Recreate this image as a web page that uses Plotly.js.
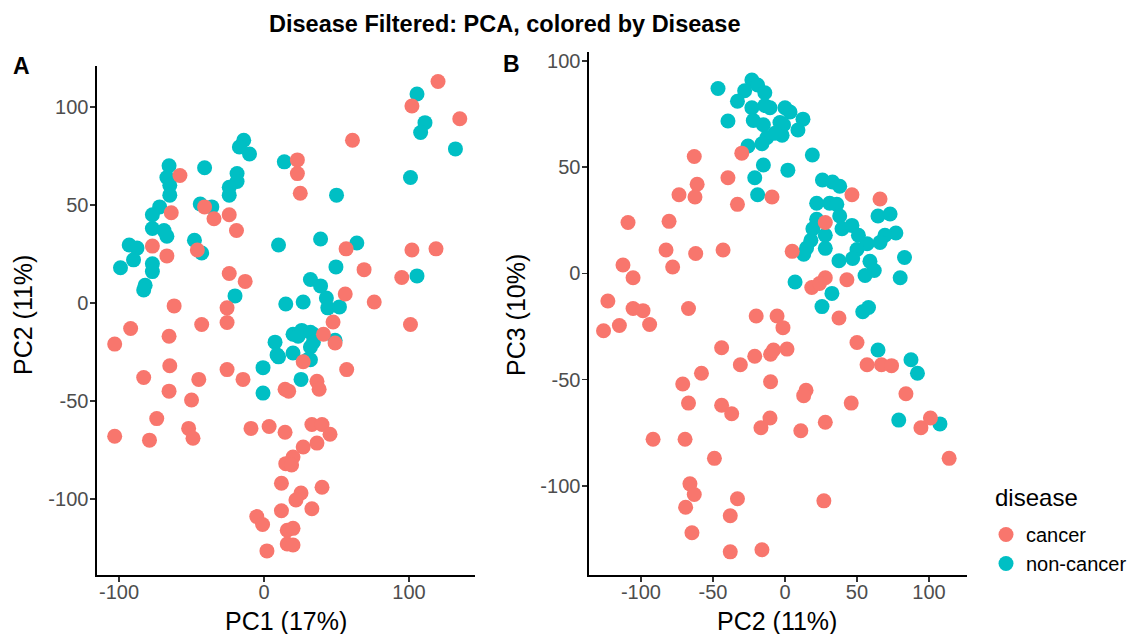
<!DOCTYPE html>
<html>
<head>
<meta charset="utf-8">
<script src="https://cdn.plot.ly/plotly-3.0.1.min.js"></script>
<style>html,body{margin:0;padding:0;background:#fff;}#chart{width:1134px;height:634px;}</style>
</head>
<body>
<div id="chart"></div>
<script>
// ---------- DATA ----------
const diseases = ["cancer", "non-cancer"];
const legendTitle = "disease";
const chartTitle = "Disease Filtered: PCA, colored by Disease";
const panelLabels = ["A", "B"];
const axisTitles = { aX: "PC1 (17%)", aY: "PC2 (11%)", bX: "PC2 (11%)", bY: "PC3 (10%)" };

// Panel A: PC1 vs PC2
const aCancerPC1 = [120,102,135,61,23,23,25,-58,-64,-41,-34.5,-24,-19,-77,-67,-46,-24,-13,-62,-25.5,-25.5,-92,-43,-103,-65.5,-65,-83,-45,-65.5,-50,-25.5,-14.5,-74,-103,-79,-52,-49,-9,3.5,14.5,14.5,15,12,12,-5,-1,2,16,16,47.6,101,49,41,27,57,36.5,38,33,40,45.5,27,36.5,20,19,40,25.5,22,33,20,20,56.6,102,118.6,69,95,56,76,17];
const aCancerPC2 = [113,100.5,94,83,73,66,56,65,46,49,43,45,37,29,24,27,15,11,-1.5,-2.5,-10,-13,-11,-21,-17,-32,-38,-39,-45,-49.5,-34,-39,-59,-68,-70,-64,-69,-64,-63,-66,-44,-82,-92,-106,-109,-113,-126.5,-116,-123,-9.7,-11,-20.4,-16,-30,-34,-40,-44,-62,-62,-67,-73.5,-71.5,-78.6,-82.7,-94,-97,-100.5,-105,-115,-123.5,27.6,27,27.6,17,13,4.6,0.5,-45];
const aNonPC1 = [105.5,111,108,132,101,50,14,-14,-17,-10,-65.5,-41,-67,-65,-18.6,-18.6,-24,-24,-65,-72,-77,-44,-36,-77,-69,-67,-48,-43,-93,-87.6,-90,-99,-77,-77,-82,-83,10,-20,15,39,64,49.6,105.5,32,39,27,43,44,52,26,20,34,7.6,49,20,32,10,32,-0.7,25.5,-0.7,23.5,32,34,30,9];
const aNonPC2 = [106.6,92,87,78.6,64,55,72,83,79.6,76,70,69,64,60,66,62,59,55,55,49,45,50.5,49,38,37,34,32,25.5,29.6,28,22,18,20,16,9,6.6,29.6,3.6,-0.5,32.6,30.6,18.4,13.8,12,8.7,0.5,2.5,-2.5,-2,-14,-16,-16,-20,-19,-25.5,-22.5,-27.5,-29,-33,-39,-46,-17,-15,-20,-29,-26.5];

// Panel B: PC2 vs PC3
const bCancerPC2 = [-30,-63,-39.6,-61,-73.6,-62.5,-33,-9,-109,-80.5,-82.6,-62,-43,-112.5,-78,-105.5,-123,-105.5,-98.6,-67,-20,-5.5,-115,-126,-94,-44,-21,-10,-31,-58,-71,-10,-67,-44,-37,-10.4,-16.7,-91.6,-69.4,-49,-66,-63,-33,-69,-38,-64.6,-38,-16,46.5,66,28,5,43,28,18.6,24,37.5,-1.4,50,57,67,74,-8,1.4,14.6,13,46,84,11,28,94.4,101,114,27];
const bCancerPC3 = [56.6,55,45,42,37,36,32.5,36,24,24.5,11,9.4,11,4,3,-2,-13,-16.5,-17.5,-16.5,-20,-20,-24.5,-27,-24,-35,-39,-38,-43,-47,-52,-51,-61,-62,-66,-68,-72.6,-78,-78,-87,-99,-104,-106,-110,-114,-122,-131,-130,37,35,24,10.4,-3,-2,-6.6,-4.7,-21,-25.5,-32.5,-43,-43,-43.4,-36,-35.6,-55,-57.5,-61,-56.6,-74,-70,-72.6,-68,-87,-107];
const bNonPC2 = [-46.5,-23,-19,-28,-14,-33,-23,-14,0,3.5,-22,-15,12.5,-39.6,-3.5,9,-12.5,-2,-25.7,-16,-15,-21,2,19,-19,-10.4,-1,26,33,38,22,31,36,38,22,19.4,39.6,46.5,64.6,73,77,69.4,66,51,57,28,18,15,28,13,50,47,37.5,83,59,62,55.6,80,7,32.6,25.7,54,58,64.6,87.5,92,79,107.6,-7];
const bNonPC3 = [87,91,88.7,86,85,81,78,79,78,76,72,70,72.6,71.7,71,67.5,64,65,60,61,51,45,48.6,55.7,37,78,70,44,43,41,33,33,32.5,27,25.5,21,21,22.6,27,28,19,18,14.6,18,14,18,15.6,12,11.8,9,11.3,7,6,7.5,5.7,1.4,-1,-2,-4,-9.4,-15.6,-18,-16,-36,-40.6,-47,-69,-70.8,66];

// Tick labels
const aXTicks = [-100, 0, 100];
const aXTickText = ["-100", "0", "100"];
const aYTicks = [-100, -50, 0, 50, 100];
const aYTickText = ["-100", "-50", "0", "50", "100"];
const bXTicks = [-100, -50, 0, 50, 100];
const bXTickText = ["-100", "-50", "0", "50", "100"];
const bYTicks = [-100, -50, 0, 50, 100];
const bYTickText = ["-100", "-50", "0", "50", "100"];

// ---------- STYLE ----------
const colors = { "cancer": "#F8766D", "non-cancer": "#00BFC4" };
const FONT = "Liberation Sans, Arial, Helvetica, sans-serif";
const MSIZE = 15;

function pts(x, y, name, xa, ya, show, rank) {
  return {
    type: "scatter", mode: "markers", x: x, y: y, name: name,
    xaxis: xa, yaxis: ya, showlegend: show, legendrank: rank,
    marker: { color: colors[name], size: MSIZE, line: { width: 0 } },
    hoverinfo: "x+y+name"
  };
}

const traces = [
  pts(aNonPC1, aNonPC2, diseases[1], "x", "y", true, 2),
  pts(aCancerPC1, aCancerPC2, diseases[0], "x", "y", true, 1),
  pts(bNonPC2, bNonPC3, diseases[1], "x2", "y2", false, 2),
  pts(bCancerPC2, bCancerPC3, diseases[0], "x2", "y2", false, 1)
];

function axis(domain, range, tv, tt, anchor, standoff) {
  return {
    domain: domain, range: range, anchor: anchor,
    showgrid: false, zeroline: false, showline: true,
    linecolor: "#000", linewidth: 1.6,
    ticks: "outside", ticklen: 5, tickwidth: 1.5, tickcolor: "#333",
    tickvals: tv, ticktext: tt, ticklabelstandoff: standoff,
    tickfont: { family: FONT, size: 20, color: "#4d4d4d" },
    fixedrange: true
  };
}

const W = 1134, H = 634;
const px = v => v / W, py = v => 1 - v / H;

const layout = {
  width: W, height: H,
  margin: { l: 0, r: 0, t: 0, b: 0 },
  paper_bgcolor: "#fff", plot_bgcolor: "#fff",
  font: { family: FONT, color: "#000" },
  xaxis: axis([px(97), px(475)], [-115.2, 145.5], aXTicks, aXTickText, "y", -7),
  yaxis: axis([py(575), py(66)], [-138.8, 120.9], aYTicks, aYTickText, "x", -2),
  xaxis2: axis([px(589), px(967)], [-136.1, 126.4], bXTicks, bXTickText, "y2", -7),
  yaxis2: axis([py(575), py(52)], [-141.9, 104.2], bYTicks, bYTickText, "x2", -2),
  showlegend: true,
  legend: {
    x: px(986), y: py(515), xanchor: "left", yanchor: "top",
    font: { family: FONT, size: 20, color: "#000" },
    bgcolor: "rgba(0,0,0,0)", tracegroupgap: 0
  },
  annotations: [
    { text: "<b>" + chartTitle + "</b>", x: px(505), y: py(24), xref: "paper", yref: "paper",
      showarrow: false, xanchor: "center", yanchor: "middle", font: { family: FONT, size: 23.5, color: "#000" } },
    { text: "<b>" + panelLabels[0] + "</b>", x: px(21), y: py(66), xref: "paper", yref: "paper",
      showarrow: false, xanchor: "center", yanchor: "middle", font: { family: FONT, size: 23, color: "#000" } },
    { text: "<b>" + panelLabels[1] + "</b>", x: px(511), y: py(64), xref: "paper", yref: "paper",
      showarrow: false, xanchor: "center", yanchor: "middle", font: { family: FONT, size: 23, color: "#000" } },
    { text: axisTitles.aX, x: px(286), y: py(621), xref: "paper", yref: "paper",
      showarrow: false, xanchor: "center", yanchor: "middle", font: { family: FONT, size: 25, color: "#000" } },
    { text: axisTitles.aY, x: px(23), y: py(315), xref: "paper", yref: "paper", textangle: -90,
      showarrow: false, xanchor: "center", yanchor: "middle", font: { family: FONT, size: 25, color: "#000" } },
    { text: axisTitles.bX, x: px(777), y: py(621), xref: "paper", yref: "paper",
      showarrow: false, xanchor: "center", yanchor: "middle", font: { family: FONT, size: 25, color: "#000" } },
    { text: axisTitles.bY, x: px(516), y: py(315), xref: "paper", yref: "paper", textangle: -90,
      showarrow: false, xanchor: "center", yanchor: "middle", font: { family: FONT, size: 25, color: "#000" } },
    { text: legendTitle, x: px(993), y: py(497), xref: "paper", yref: "paper",
      showarrow: false, xanchor: "left", yanchor: "middle", font: { family: FONT, size: 24, color: "#000" } }
  ]
};

Plotly.newPlot("chart", traces, layout, { displayModeBar: false, staticPlot: true });
</script>
</body>
</html>
